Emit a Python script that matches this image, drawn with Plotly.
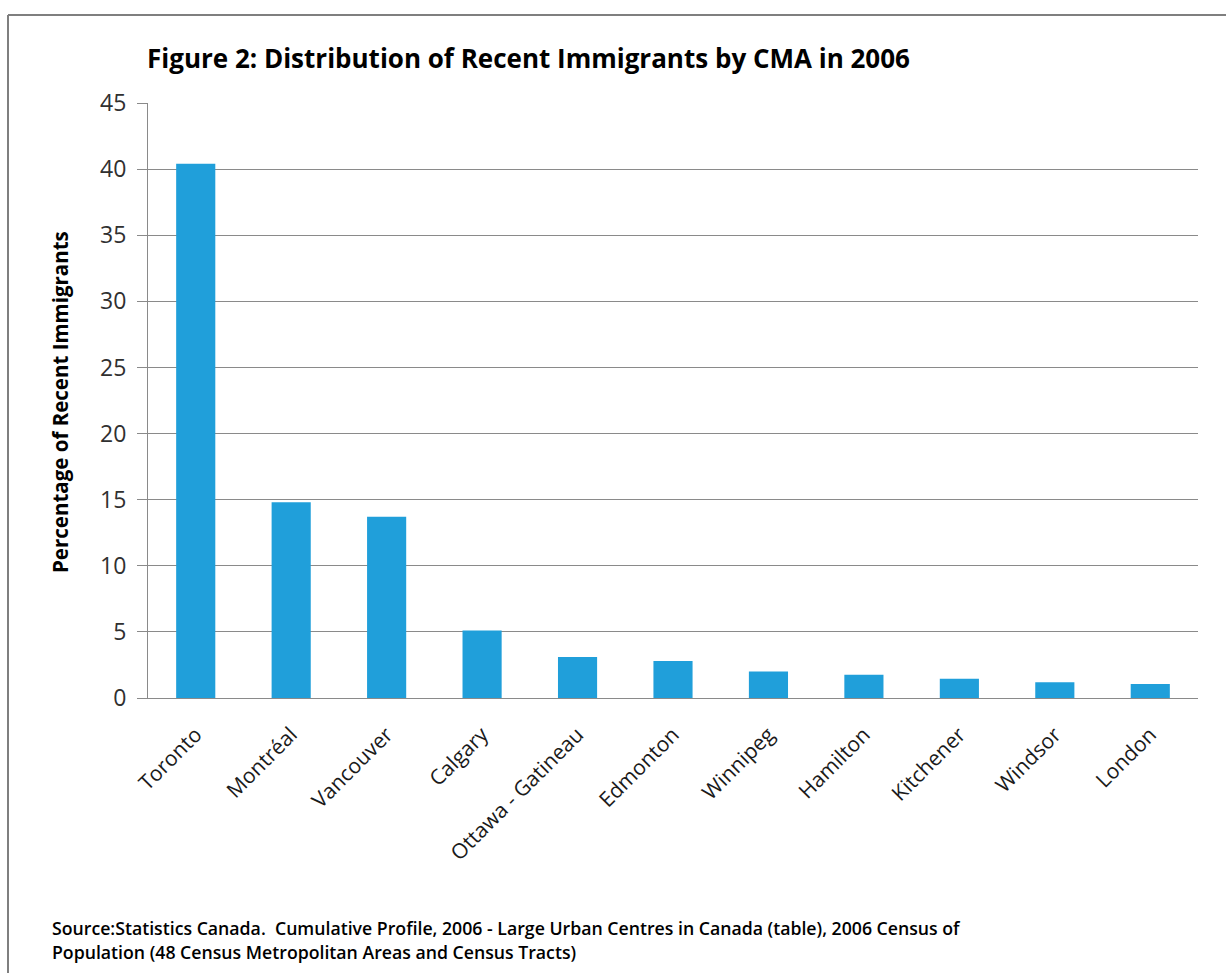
import plotly.graph_objects as go

# Share of recent immigrants (%) by Census Metropolitan Area, 2006
cities = ["Toronto", "Montréal", "Vancouver", "Calgary", "Ottawa - Gatineau",
          "Edmonton", "Winnipeg", "Hamilton", "Kitchener", "Windsor", "London"]
shares = [40.4, 14.8, 13.7, 5.1, 3.1, 2.8, 2.0, 1.75, 1.45, 1.2, 1.05]
y_ticks = [0, 5, 10, 15, 20, 25, 30, 35, 40, 45]

FONT = "Open Sans"
GRID = "#8a8a8a"

W, H = 1226, 973
L, R, T, B = 148, 28, 103, 275
pw, ph = W - L - R, H - T - B


def px_x(px):
    return (px - L) / pw


def px_y(py):
    return (H - B - py) / ph


fig = go.Figure(go.Bar(
    x=cities, y=shares,
    marker=dict(color="#209FDA", line=dict(width=0)),
    width=0.41,
))

fig.update_layout(
    width=W, height=H,
    margin=dict(l=L, r=R, t=T, b=B),
    paper_bgcolor="white", plot_bgcolor="white",
    showlegend=False,
    font=dict(family=FONT, color="#404040"),
    xaxis=dict(
        tickangle=-45, tickfont=dict(size=21, family=FONT, color="#1a1a1a"),
        ticklabelstandoff=15,
        showline=True, linecolor=GRID, linewidth=1, ticks="",
        showgrid=False,
    ),
    yaxis=dict(
        range=[0, 45], tickvals=y_ticks, ticktext=[str(v) for v in y_ticks],
        tickfont=dict(size=23, family=FONT, color="#303030"),
        ticklabelstandoff=6,
        showgrid=True, gridcolor=GRID, gridwidth=1,
        showline=True, linecolor=GRID, linewidth=1,
        ticks="outside", ticklen=10, tickcolor=GRID,
        zeroline=False,
    ),
    shapes=[
        # frame around the figure (top and left edges)
        dict(type="line", xref="paper", yref="paper",
             x0=px_x(8), x1=px_x(W + 5), y0=px_y(15), y1=px_y(15),
             line=dict(color="#7f7f7f", width=2)),
        dict(type="line", xref="paper", yref="paper",
             x0=px_x(8), x1=px_x(8), y0=px_y(15), y1=px_y(H + 5),
             line=dict(color="#7f7f7f", width=2)),
    ],
    annotations=[
        dict(text="<b>Figure 2: Distribution of Recent Immigrants by CMA in 2006</b>",
             xref="paper", yref="paper", x=px_x(145), y=px_y(58),
             xanchor="left", yanchor="middle", showarrow=False,
             font=dict(size=26, family=FONT, color="#000000")),
        dict(text="<b>Percentage of Recent Immigrants</b>",
             xref="paper", yref="paper", x=px_x(60), y=px_y(402),
             xanchor="center", yanchor="middle", textangle=-90, showarrow=False,
             font=dict(size=20.5, family=FONT, color="#000000")),
        dict(text="Source:Statistics Canada.  Cumulative Profile, 2006 - Large Urban Centres in Canada (table), 2006 Census of",
             xref="paper", yref="paper", x=px_x(50), y=px_y(928),
             xanchor="left", yanchor="middle", showarrow=False,
             font=dict(size=17.7, family=FONT, color="#000000", weight=600)),
        dict(text="Population (48 Census Metropolitan Areas and Census Tracts)",
             xref="paper", yref="paper", x=px_x(50), y=px_y(952),
             xanchor="left", yanchor="middle", showarrow=False,
             font=dict(size=17.7, family=FONT, color="#000000", weight=600)),
    ],
)

fig.write_html("out.html")
